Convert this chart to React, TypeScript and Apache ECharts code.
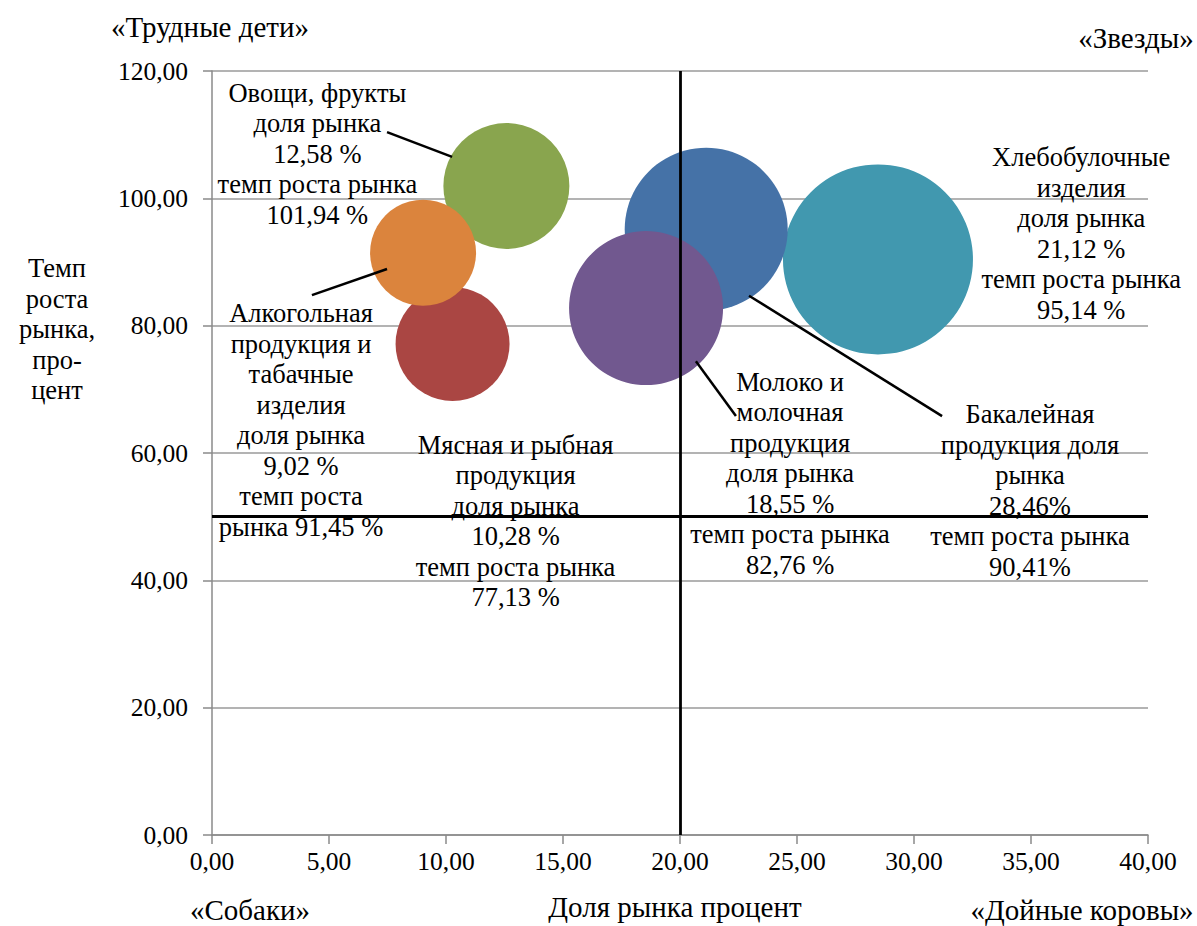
import React, { useEffect, useRef } from "react";
import * as echarts from "echarts";

// ---- data (drawing order: larger bubbles first, smaller on top) ----
const categories = [
  "Бакалейная продукция",
  "Хлебобулочные изделия",
  "Молоко и молочная продукция",
  "Овощи, фрукты",
  "Мясная и рыбная продукция",
  "Алкогольная продукция и табачные изделия",
];
const marketShare = [28.46, 21.12, 18.55, 12.58, 10.28, 9.02];
const marketGrowth = [90.41, 95.14, 82.76, 101.94, 77.13, 91.45];
const bubbleValue = [190, 163, 154, 126, 114, 106];

// label templates ({s} = share, {g} = growth)
const labelTemplates = [
  "Бакалейная\nпродукция доля\nрынка\n{s}%\nтемп роста рынка\n{g}%",
  "Хлебобулочные\nизделия\nдоля рынка\n{s} %\nтемп роста рынка\n{g} %",
  "Молоко и\nмолочная\nпродукция\nдоля рынка\n{s} %\nтемп роста рынка\n{g} %",
  "Овощи, фрукты\nдоля рынка\n{s} %\nтемп роста рынка\n{g} %",
  "Мясная и рыбная\nпродукция\nдоля рынка\n{s} %\nтемп роста рынка\n{g} %",
  "Алкогольная\nпродукция и\nтабачные\nизделия\nдоля рынка\n{s} %\nтемп роста\nрынка {g} %",
];

const quadrantLabels = ["«Трудные дети»", "«Звезды»", "«Собаки»", "«Дойные коровы»"];
const xAxisTitle = "Доля рынка процент";
const yAxisTitle = "Темп\nроста\nрынка,\nпро-\nцент";

const xThreshold = 20;
const yThreshold = 50;

// leader lines (data coordinates): [from, to]
const leaderLines: number[][][] = [
  [[7.48, 110.4], [10.26, 106.5]],
  [[4.27, 84.8], [7.48, 88.9]],
  [[20.68, 74.4], [22.39, 65.8]],
  [[22.95, 84.7], [31.2, 65.8]],
];

// ---- styles / layout ----
const colors = ["#4198AF", "#4572A7", "#71588F", "#89A54E", "#AA4643", "#DB843D"];
const labelOffsets = [
  [152, 231],
  [375, 4],
  [144, 165],
  [-189, -32],
  [63, 177],
  [-122, 167],
];
const FONT = "Liberation Serif";
const FS_TICK = 25.5;
const FS_LABEL = 26.5;
const FS_TITLE = 29;
const LH = 30.5;

const fmt = (v: number) => v.toFixed(2).replace(".", ",");

export default function App() {
  const ref = useRef<HTMLDivElement>(null);
  useEffect(() => {
    if (!ref.current) return;
    const chart = echarts.init(ref.current, undefined, { renderer: "svg" });
    const data = categories.map((name, i) => ({
      name,
      value: [marketShare[i], marketGrowth[i], bubbleValue[i]],
      itemStyle: { color: colors[i], opacity: 1 },
      label: {
        show: true,
        formatter: labelTemplates[i]
          .replace("{s}", fmt(marketShare[i]))
          .replace("{g}", fmt(marketGrowth[i])),
        offset: labelOffsets[i],
      },
    }));
    const text = (t: string, x: number, y: number, fs: number) => ({
      type: "text",
      x,
      y,
      z: 100,
      style: {
        text: t,
        fontFamily: FONT,
        fontSize: fs,
        lineHeight: LH,
        fill: "#000",
        align: "center",
        verticalAlign: "middle",
      },
    });
    chart.setOption({
      animation: false,
      grid: { left: 212, right: 49, top: 71, bottom: 91 },
      xAxis: {
        type: "value",
        min: 0,
        max: 40,
        interval: 5,
        axisLine: { show: true, lineStyle: { color: "#8a8a8a", width: 1.5 } },
        axisTick: { show: true, length: 9, lineStyle: { color: "#8a8a8a", width: 1.5 } },
        axisLabel: { formatter: fmt, fontSize: FS_TICK, color: "#000", margin: 13, fontFamily: FONT },
        splitLine: { show: false },
      },
      yAxis: {
        type: "value",
        min: 0,
        max: 120,
        interval: 20,
        axisLine: { show: true, lineStyle: { color: "#8a8a8a", width: 1.5 } },
        axisTick: { show: true, length: 9, lineStyle: { color: "#8a8a8a", width: 1.5 } },
        axisLabel: { formatter: fmt, fontSize: FS_TICK, color: "#000", margin: 24, fontFamily: FONT },
        splitLine: { show: true, lineStyle: { color: "#9a9a9a", width: 1.5 } },
      },
      series: [
        {
          type: "scatter",
          data,
          symbol: "circle",
          symbolSize: (v: number[]) => v[2],
          label: {
            show: true,
            position: "inside",
            align: "center",
            verticalAlign: "middle",
            fontSize: FS_LABEL,
            lineHeight: LH,
            color: "#000",
            fontFamily: FONT,
          },
          emphasis: { disabled: true },
          markLine: {
            silent: true,
            symbol: "none",
            animation: false,
            label: { show: false },
            lineStyle: { color: "#000", width: 2.8, type: "solid" },
            data: [
              { xAxis: xThreshold },
              { yAxis: yThreshold },
              ...leaderLines.map((l) => [
                { coord: l[0], lineStyle: { color: "#000", width: 2.5, type: "solid" } },
                { coord: l[1], lineStyle: { color: "#000", width: 2.5, type: "solid" } },
              ]),
            ],
          },
        },
      ],
      graphic: [
        text(quadrantLabels[0], 210, 27, FS_TITLE),
        text(quadrantLabels[1], 1136, 38, FS_TITLE),
        text(quadrantLabels[2], 250, 910, FS_TITLE),
        text(quadrantLabels[3], 1082, 910, FS_TITLE),
        text(xAxisTitle, 675, 907, FS_TITLE),
        text(yAxisTitle, 57, 329, FS_LABEL),
      ],
    });
    return () => chart.dispose();
  }, []);
  return (
    <div
      ref={ref}
      style={{ position: "fixed", left: 0, top: 0, width: 1197, height: 926, background: "#fff" }}
    />
  );
}
